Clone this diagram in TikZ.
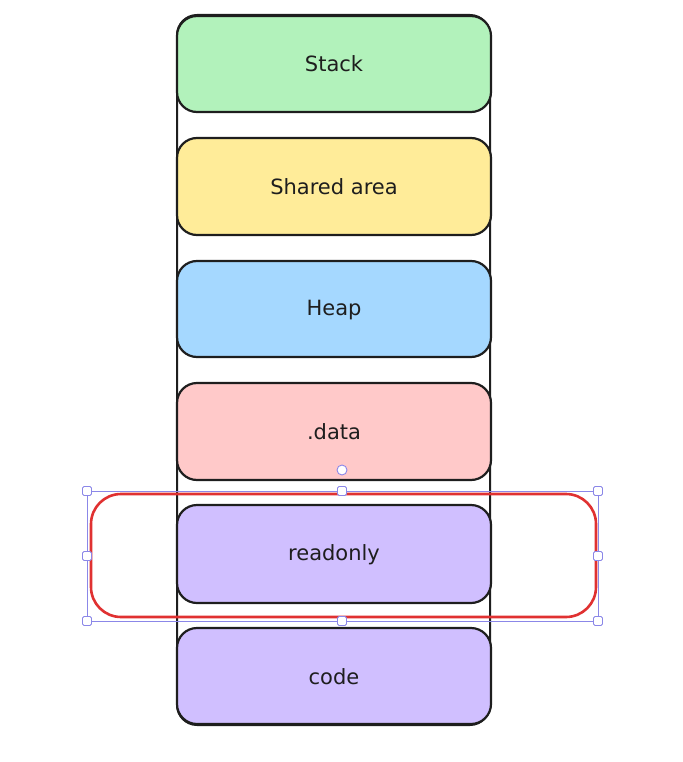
\documentclass[tikz,border=0pt]{standalone}
\usepackage{fontspec}
\setmainfont{DejaVu Sans}
\definecolor{ink}{HTML}{1E1E1E}
\definecolor{cgreen}{HTML}{B2F2BB}
\definecolor{cyellow}{HTML}{FFEC99}
\definecolor{cblue}{HTML}{A5D8FF}
\definecolor{cpink}{HTML}{FFC9C9}
\definecolor{cviolet}{HTML}{D0BFFF}
\definecolor{cred}{HTML}{E03131}
\definecolor{csel}{HTML}{8B87E8}
\begin{document}
\begin{tikzpicture}[x=1pt,y=-1pt,
  seg/.style={draw=ink,line width=2.2pt,rounded corners=20pt},
  lbl/.style={font=\fontsize{21}{25}\selectfont,text=ink},
  handle/.style={draw=csel,fill=white,line width=0.9pt,rounded corners=1.5pt,minimum size=9pt,inner sep=0pt},
]
\useasboundingbox (0,0) rectangle (682,762);
% outer container
\draw[draw=ink,line width=2pt,rounded corners=20pt] (177,15) rectangle (490,725);
% segments
\draw[seg,fill=cgreen]  (177,16)  rectangle (491,112);
\draw[seg,fill=cyellow] (177,138) rectangle (491,235);
\draw[seg,fill=cblue]   (177,261) rectangle (491,357);
\draw[seg,fill=cpink]   (177,383) rectangle (491,480);
\draw[seg,fill=cviolet] (177,505) rectangle (491,603);
\draw[seg,fill=cviolet] (177,628) rectangle (491,724);
\node[lbl] (stack) at (334,64) {Stack};
\node[lbl] (shared) at (334,187) {Shared area};
\node[lbl] (heap) at (334,310) {Heap};
\node[lbl] (data) at (334,432) {.data};
\node[lbl] (ro) at (334,555) {readonly};
\node[lbl] (code) at (334,677) {code};
% red highlight
\draw[draw=cred,line width=2.6pt,rounded corners=30pt] (91,494) rectangle (596,617);
% selection frame
\draw[draw=csel,line width=0.9pt] (87,491) rectangle (598,621);
\node[handle] (h1) at (87,491) {};
\node[handle] (h2) at (342,491) {};
\node[handle] (h3) at (598,491) {};
\node[handle] (h4) at (87,556) {};
\node[handle] (h5) at (598,556) {};
\node[handle] (h6) at (87,621) {};
\node[handle] (h7) at (342,621) {};
\node[handle] (h8) at (598,621) {};
\node[draw=csel,fill=white,line width=0.9pt,circle,minimum size=10pt,inner sep=0pt] (rot) at (342,470) {};
\end{tikzpicture}
\end{document}
